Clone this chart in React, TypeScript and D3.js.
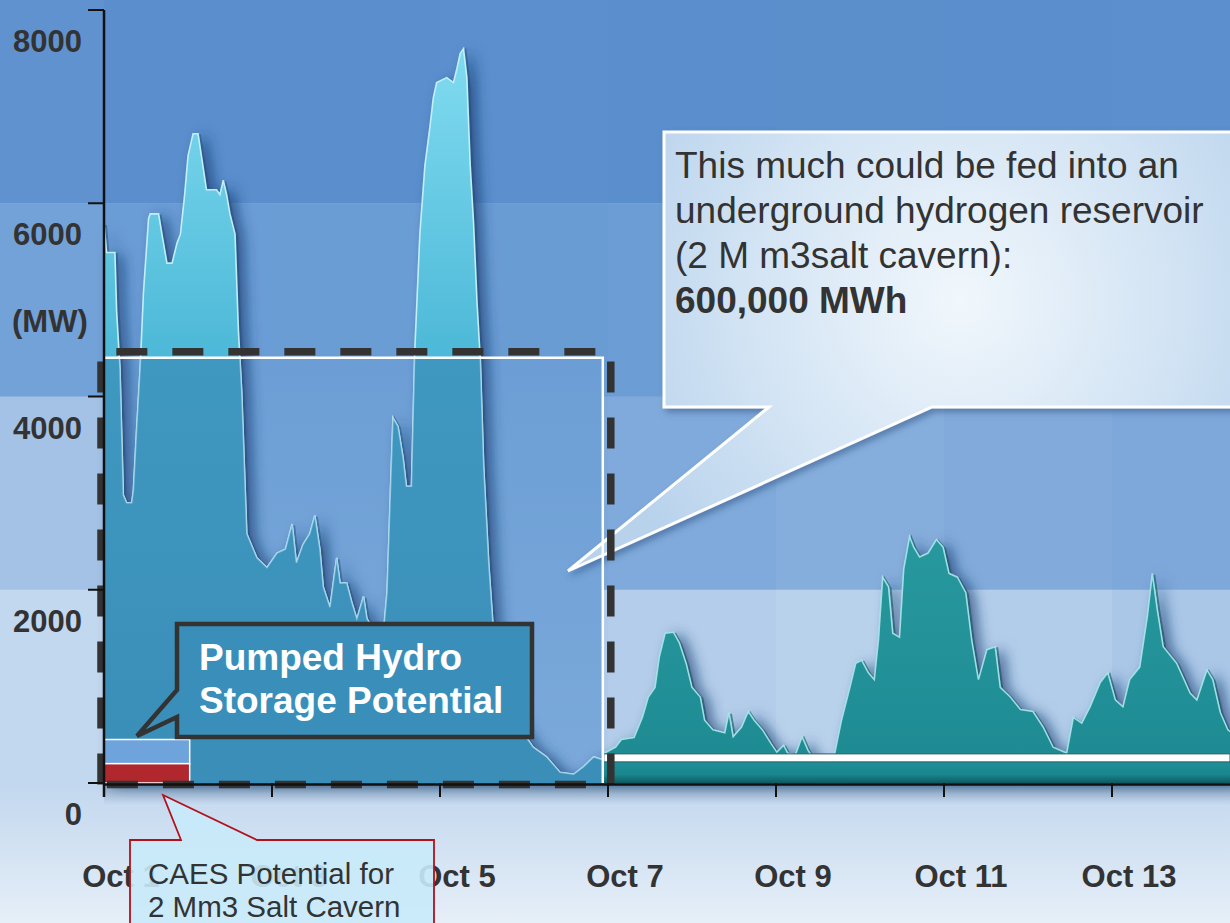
import React from "react";
import * as d3 from "d3";

// ---- data ----
const seriesDays = [
  0.0, 0.03, 0.13, 0.15, 0.19, 0.23, 0.27, 0.33, 0.35, 0.39, 0.43, 0.47, 0.53, 0.55, 0.65, 0.69, 0.75, 0.81, 0.87, 0.91,
  0.96, 1.0, 1.06, 1.12, 1.16, 1.22, 1.34, 1.38, 1.42, 1.46, 1.5, 1.56, 1.6, 1.64, 1.7, 1.82, 1.94, 2.06, 2.16, 2.24,
  2.29, 2.37, 2.45, 2.51, 2.57, 2.61, 2.69, 2.77, 2.81, 2.89, 2.95, 3.01, 3.09, 3.13, 3.21, 3.33, 3.37, 3.41, 3.44, 3.5,
  3.56, 3.6, 3.66, 3.7, 3.76, 3.82, 3.88, 3.92, 3.96, 4.08, 4.16, 4.2, 4.24, 4.28, 4.32, 4.36, 4.4, 4.44, 4.48, 4.52,
  4.58, 4.64, 4.71, 4.83, 4.99, 5.11, 5.27, 5.43, 5.59, 5.71, 5.83, 5.94,
  5.96, 6.09, 6.16, 6.31, 6.41, 6.48, 6.56, 6.61, 6.68, 6.78, 6.85, 6.93, 7.0, 7.1, 7.15, 7.25, 7.39, 7.44, 7.49, 7.59,
  7.67, 7.74, 7.84, 7.94, 8.01, 8.09, 8.14, 8.23, 8.31, 8.38, 8.48, 8.63, 8.7, 8.78, 8.88, 8.95, 9.02, 9.1, 9.17, 9.22,
  9.27, 9.34, 9.39, 9.47, 9.52, 9.59, 9.64, 9.71, 9.81, 9.91, 9.99, 10.06, 10.16, 10.26, 10.33, 10.41, 10.51, 10.61,
  10.67, 10.79, 10.91, 11.06, 11.18, 11.3, 11.46, 11.54, 11.64, 11.74, 11.86, 11.95, 12.04, 12.13, 12.21, 12.33, 12.42,
  12.48, 12.54, 12.61, 12.77, 12.93, 13.01, 13.13, 13.2, 13.29, 13.38, 13.45,
];
const seriesMW = [
  5790, 5490, 5490, 4890, 4290, 2980, 2900, 2900, 3030, 3690, 4290, 5080, 5840, 5890, 5890, 5680, 5380, 5380, 5590, 5680,
  6090, 6490, 6720, 6720, 6490, 6140, 6140, 6090, 6240, 6090, 5890, 5680, 4690, 4040, 2580, 2330, 2230, 2380, 2420, 2680,
  2280, 2470, 2580, 2770, 2420, 2030, 1820, 2330, 2070, 2070, 1870, 1700, 1930, 1700, 1590, 1590, 1980, 3030, 3780, 3690,
  3370, 3070, 3070, 4480, 5680, 6390, 6790, 7090, 7250, 7300, 7250, 7390, 7550, 7600, 7300, 6390, 5790, 4990, 4380, 3280,
  2280, 1520, 1030, 770, 520, 370, 270, 110, 90, 170, 270, 240,
  310, 370, 450, 470, 680, 890, 990, 1300, 1550, 1560, 1450, 1240, 990, 890, 650, 550, 520, 730, 480, 580,
  740, 650, 550, 410, 320, 390, 310, 290, 480, 340, 210, 140, 310, 650, 990, 1240, 1270, 1140, 1070, 1480,
  2130, 2030, 1550, 1510, 2210, 2550, 2440, 2340, 2380, 2520, 2440, 2170, 2130, 1970, 1480, 1070, 1380, 1410,
  990, 890, 760, 740, 580, 370, 310, 680, 620, 790, 1040, 1140, 860, 790, 1070, 1200, 1720,
  2170, 1790, 1410, 1240, 930, 860, 1170, 1070, 730, 550, 500,
];
const xTickDays = [0, 2, 4, 6, 8, 10, 12];
const xTickLabels = ["Oct 1", "Oct 3", "Oct 5", "Oct 7", "Oct 9", "Oct 11", "Oct 13"];
const yTickValues = [0, 2000, 4000, 6000, 8000];
const yTickLabels = ["0", "2000", "4000", "6000", "8000"];
const yUnitLabel = "(MW)";

const hydrogenWindowDays = 5.95;
const hydrogenLevelMW = 4400;
const storageWindowDays = 1.02;
const pumpedHydroMW = 450;
const caesMW = 200;
const baseReserveMW = 260;

const hydrogenNote = ["This much could be fed into an", "underground hydrogen reservoir", "(2 M m3salt cavern):"];
const hydrogenNoteBold = "600,000 MWh";
const pumpedNote = ["Pumped Hydro", "Storage Potential"];
const caesNote = ["CAES Potential for", "2 Mm3 Salt Cavern"];

// ---- styles ----
const FONT = "'Liberation Sans', Arial, Helvetica, sans-serif";
const bandColors = [
  ["#5f92ce", "#5a8ecc", "#5a8ecc", "#5b8fcd", "#5a8ecc", "#5b8fcc", "#5a8ecc", "#5b8fcd"],
  ["#72a2d8", "#6a9cd5", "#6b9dd5", "#6a9cd4", "#6c9ed5", "#6a9cd4", "#6b9dd5", "#6a9cd4"],
  ["#a4c2e6", "#7eaadb", "#80aadb", "#7ea8da", "#80aadb", "#86aedc", "#82abdb", "#7ea8da"],
  ["#c2d8ef", "#b3cdeb", "#b5cfeb", "#b0cbe9", "#b3cdea", "#b9d2ec", "#b2cdea", "#aac7e8"],
];

type Pt = { d: number; v: number };

export default function App() {
  const W = 1230;
  const H = 923;
  const x = d3.scaleLinear().domain([0, 12]).range([104, 1112]);
  const y = d3.scaleLinear().domain([0, 8000]).range([783, 10]);

  const data: Pt[] = seriesDays.map((d, i) => ({ d, v: seriesMW[i] }));
  const areaGen = d3.area<Pt>().x((p) => x(p.d)).y0(y(0)).y1((p) => y(p.v));
  const lineGen = d3.line<Pt>().x((p) => x(p.d)).y((p) => y(p.v));
  const areaPath = areaGen(data) || "";
  const linePath = lineGen(data) || "";

  const x0 = x(0);
  const splitX = x(hydrogenWindowDays);
  const y0 = y(0);
  const h2Top = y(hydrogenLevelMW);

  // background cells
  const colEdges = [0, ...xTickDays.map((d) => x(d)), W];
  const rowEdges = [0, y(6000), y(4000), y(2000), y0];
  const cells: JSX.Element[] = [];
  for (let r = 0; r < 4; r++) {
    for (let c = 0; c < colEdges.length - 1; c++) {
      cells.push(
        <rect
          key={`c${r}-${c}`}
          x={colEdges[c]}
          y={rowEdges[r]}
          width={colEdges[c + 1] - colEdges[c] + 0.5}
          height={rowEdges[r + 1] - rowEdges[r] + 0.5}
          fill={bandColors[r][c] || bandColors[r][bandColors[r].length - 1]}
        />
      );
    }
  }

  const reserveY = y(baseReserveMW);
  const storageX = x(storageWindowDays);

  return (
    <svg
      width={W}
      height={H}
      viewBox={`0 0 ${W} ${H}`}
      style={{ position: "absolute", left: 0, top: 0, display: "block" }}
      fontFamily={FONT}
    >
      <defs>
        <linearGradient id="bottomGrad" x1="0" y1={y0} x2="0" y2={H} gradientUnits="userSpaceOnUse">
          <stop offset="0" stopColor="#c2d7ee" />
          <stop offset="1" stopColor="#e6eff8" />
        </linearGradient>
        <linearGradient id="cyanGrad" x1="0" y1="40" x2="0" y2="360" gradientUnits="userSpaceOnUse">
          <stop offset="0" stopColor="#82dcf1" />
          <stop offset="1" stopColor="#4cb8d7" />
        </linearGradient>
        <linearGradient id="h2AreaGrad" x1="0" y1={h2Top} x2="0" y2={y0} gradientUnits="userSpaceOnUse">
          <stop offset="0" stopColor="#3f98c0" />
          <stop offset="1" stopColor="#3a8eb8" />
        </linearGradient>
        <linearGradient id="h2BgGrad" x1="0" y1={h2Top} x2="0" y2={y0} gradientUnits="userSpaceOnUse">
          <stop offset="0" stopColor="#6c9ed5" />
          <stop offset="1" stopColor="#7ba9da" />
        </linearGradient>
        <linearGradient id="tealGrad" x1="0" y1="530" x2="0" y2="760" gradientUnits="userSpaceOnUse">
          <stop offset="0" stopColor="#28999f" />
          <stop offset="1" stopColor="#1e8b93" />
        </linearGradient>
        <linearGradient id="bandGrad" x1="0" y1={reserveY + 4} x2="0" y2={y0} gradientUnits="userSpaceOnUse">
          <stop offset="0" stopColor="#1f9098" />
          <stop offset="0.6" stopColor="#1a858d" />
          <stop offset="1" stopColor="#0e5a61" />
        </linearGradient>
        <linearGradient id="axisShade" x1="0" y1={y0} x2="0" y2={y0 + 22} gradientUnits="userSpaceOnUse">
          <stop offset="0" stopColor="#24466f" stopOpacity="0.35" />
          <stop offset="1" stopColor="#24466f" stopOpacity="0" />
        </linearGradient>
        <radialGradient id="noteGrad" cx="960" cy="300" r="380" gradientUnits="userSpaceOnUse">
          <stop offset="0" stopColor="#f1f7fc" />
          <stop offset="0.55" stopColor="#d3e4f4" />
          <stop offset="1" stopColor="#b8d2ec" />
        </radialGradient>
        <filter id="areaShadow" x="-10%" y="-10%" width="130%" height="130%">
          <feDropShadow dx="8" dy="3" stdDeviation="7" floodColor="#143668" floodOpacity="0.7" />
        </filter>
        <filter id="boxShadow" x="-10%" y="-10%" width="130%" height="140%">
          <feDropShadow dx="3" dy="4" stdDeviation="3" floodColor="#2a4f80" floodOpacity="0.5" />
        </filter>
        <clipPath id="clipLeft">
          <rect x={0} y={0} width={splitX} height={H} />
        </clipPath>
        <clipPath id="clipRight">
          <rect x={splitX} y={0} width={W - splitX} height={H} />
        </clipPath>
        <clipPath id="clipH2">
          <rect x={x0} y={h2Top} width={splitX - x0} height={y0 - h2Top} />
        </clipPath>
      </defs>

      {/* background */}
      {cells}
      <rect x={0} y={y0} width={W} height={H - y0} fill="url(#bottomGrad)" />
      <rect x={x0} y={y0} width={W - x0} height={22} fill="url(#axisShade)" />

      {/* hydrogen window background */}
      <rect x={x0} y={h2Top} width={splitX - x0} height={y0 - h2Top} fill="url(#h2BgGrad)" />

      {/* area with shadow */}
      <path d={areaPath} fill="#4cb8d7" filter="url(#areaShadow)" />
      <g clipPath="url(#clipLeft)">
        <path d={linePath} fill="none" stroke="#1d4f7a" strokeWidth={2} strokeOpacity={0.5} transform="translate(2,1.5)" />
        <path d={areaPath} fill="url(#cyanGrad)" />
        <path d={linePath} fill="none" stroke="#cdf5fc" strokeWidth={1.6} strokeOpacity={0.9} />
      </g>
      <g clipPath="url(#clipH2)">
        <path d={areaPath} fill="url(#h2AreaGrad)" />
        <path d={linePath} fill="none" stroke="#a9d6ec" strokeWidth={1.5} strokeOpacity={0.7} />
      </g>
      <g clipPath="url(#clipRight)">
        <path d={linePath} fill="none" stroke="#0f5560" strokeWidth={2} strokeOpacity={0.6} transform="translate(2,1.5)" />
        <path d={areaPath} fill="url(#tealGrad)" />
        <path d={linePath} fill="none" stroke="#a9e7ea" strokeWidth={1.6} strokeOpacity={0.9} />
      </g>

      {/* reserve band on the right */}
      <rect x={splitX} y={reserveY + 4} width={W - splitX} height={y0 - reserveY - 4} fill="url(#bandGrad)" />
      <rect x={splitX} y={reserveY - 4} width={W - splitX} height={8} fill="#ffffff" stroke="#235e66" strokeWidth={1} />

      {/* hydrogen callout */}
      <path
        d={`M664,132 H1240 V407 H932 L568,571 L769,407 H664 Z`}
        fill="url(#noteGrad)"
        stroke="#ffffff"
        strokeWidth={3}
        filter="url(#boxShadow)"
      />
      <g fill="#333333" fontSize={37}>
        {hydrogenNote.map((t, i) => (
          <text key={t} x={675} y={178 + i * 45}>
            {t}
          </text>
        ))}
        <text x={675} y={178 + 3 * 45} fontWeight="bold">
          {hydrogenNoteBold}
        </text>
      </g>

      {/* hydrogen window outline */}
      <path d={`M${x0},${h2Top} H${splitX - 1} V${y0}`} fill="none" stroke="#ffffff" strokeWidth={2.5} />

      {/* storage bars */}
      <rect x={x0} y={y(pumpedHydroMW)} width={storageX - x0} height={y(caesMW) - y(pumpedHydroMW)} fill="#6fa3dc" stroke="#ffffff" strokeWidth={1.5} />
      <rect x={x0} y={y(caesMW)} width={storageX - x0} height={y0 - y(caesMW)} fill="#b0272d" stroke="#ffffff" strokeWidth={1.5} />

      {/* dashed frame */}
      <path
        d={`M${x0 - 3},${y0 + 1.5} V${h2Top - 6} H${splitX + 7} V${y0 + 1.5} Z`}
        fill="none"
        stroke="#333333"
        strokeWidth={7.5}
        strokeDasharray="31 25"
      />

      {/* axes */}
      <line x1={x0} x2={x0} y1={y(8000)} y2={y0 + 14} stroke="#111" strokeWidth={2.5} />
      {yTickValues.map((v, i) => (
        <g key={`yt${v}`}>
          <line x1={88} x2={x0} y1={y(v)} y2={y(v)} stroke="#111" strokeWidth={2} />
          <text x={82} y={y(v) + 42} textAnchor="end" fontSize={31} fontWeight="bold" fill="#333333">
            {yTickLabels[i]}
          </text>
        </g>
      ))}
      <text x={12} y={332} fontSize={31} fontWeight="bold" fill="#333333">
        {yUnitLabel}
      </text>
      <line x1={x0} x2={W} y1={y0 + 1.5} y2={y0 + 1.5} stroke="#111" strokeWidth={2.5} />
      {xTickDays.map((d, i) => (
        <g key={`xt${d}`}>
          <line x1={x(d)} x2={x(d)} y1={y0} y2={y0 + 14} stroke="#111" strokeWidth={2} />
          <text x={x(d) + 17} y={887} textAnchor="middle" fontSize={31} fontWeight="bold" fill="#333333">
            {xTickLabels[i]}
          </text>
        </g>
      ))}

      {/* pumped hydro callout */}
      <path
        d={`M177,624 H532 V737 H177 V717 L137,736 L177,690 Z`}
        fill="#3a8fba"
        stroke="#333333"
        strokeWidth={4.5}
      />
      <g fill="#ffffff" fontSize={37} fontWeight="bold">
        {pumpedNote.map((t, i) => (
          <text key={t} x={199} y={670 + i * 43}>
            {t}
          </text>
        ))}
      </g>

      {/* CAES callout */}
      <path
        d={`M130,840 H181 L163,795 L257,840 H434 V935 H130 Z`}
        fill="#c8eafa"
        fillOpacity={0.9}
        stroke="#b3111b"
        strokeWidth={1.8}
      />
      <g fill="#333333" fontSize={29.5}>
        {caesNote.map((t, i) => (
          <text key={t} x={148} y={884 + i * 33}>
            {t}
          </text>
        ))}
      </g>
    </svg>
  );
}
